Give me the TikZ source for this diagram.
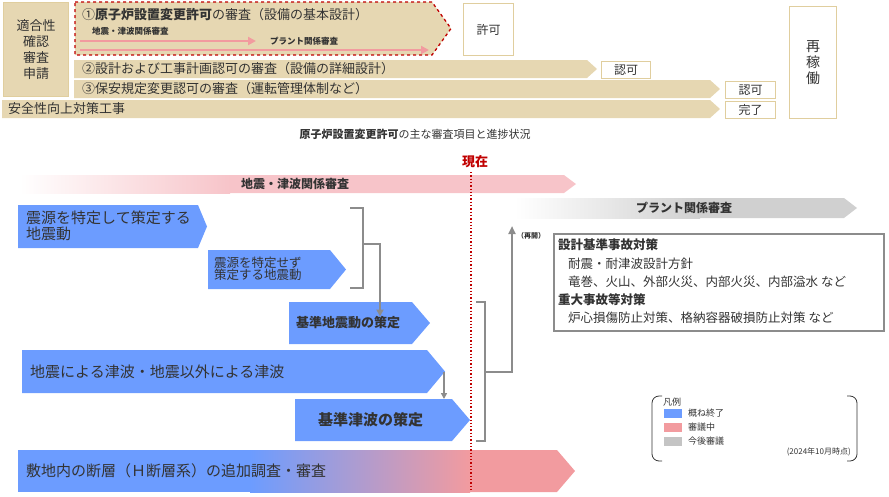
\documentclass[tikz,border=0pt]{standalone}
\usepackage{fontspec}
\setmainfont{Noto Sans CJK JP}
\newfontfamily\jpb{Noto Sans CJK JP}[BoldFont={* Bold}]
\usetikzlibrary{arrows.meta}
\definecolor{beige}{HTML}{E6D7B2}
\definecolor{beigeb}{HTML}{E0CE9E}
\definecolor{bl}{HTML}{6C9CFF}
\definecolor{pk}{HTML}{F29B9F}
\definecolor{lpk}{HTML}{F7C4C9}
\definecolor{gr}{HTML}{C4C4C4}
\definecolor{redd}{HTML}{C00000}
\definecolor{txt}{HTML}{333333}
\newcommand\pent[6]{\path[#6] (#1,#2) -- ({#3-#5},#2) -- (#3,{(#2+#4)/2}) -- ({#3-#5},#4) -- (#1,#4) -- cycle;}
\tikzset{
 lbl/.style={anchor=west,inner sep=0,text=txt,font=\fontsize{12}{13}\selectfont},
 wbox/.style={draw=beigeb,line width=1pt,fill=white,text=txt,font=\fontsize{12}{13}\selectfont,inner sep=0},
 blt/.style={anchor=west,inner sep=0,text=txt,font=\fontsize{15}{16}\selectfont,align=left},
 conn/.style={draw=gray!90,line width=2pt},
 legsw/.style={inner sep=0,minimum width=18pt,minimum height=9pt}
}
\begin{document}
\begin{tikzpicture}[x=1pt,y=-1pt]
\useasboundingbox (0,0) rectangle (889,496);
% ---------- top ----------
\node[draw=beigeb,fill=beige,line width=1pt,minimum width=65pt,minimum height=94pt,anchor=north west,inner sep=0,align=center,text=txt,font=\fontsize{13}{16}\selectfont] (app) at (3,2) {適合性\\確認\\審査\\申請};
\pent{75}{2}{451}{55}{19}{fill=beige,draw=redd,dashed,line width=1.3pt}
\node[lbl,font=\fontsize{13}{14}\selectfont] (r1) at (82,15) {①\textbf{原子炉設置変更許可}の審査（設備の基本設計）};
\node[lbl,font=\bfseries\fontsize{8.5}{9}\selectfont] (l1) at (92,31) {地震・津波関係審査};
\node[lbl,font=\bfseries\fontsize{8.5}{9}\selectfont] (l2) at (270,41) {プラント関係審査};
\coordinate (a1s) at (80,41); \coordinate (a1e) at (256,41);
\coordinate (a2s) at (80,50); \coordinate (a2e) at (429,50);
\draw[draw=pk,line width=2.2pt,-{Triangle[length=8pt,width=8pt]}] (a1s) -- (a1e);
\draw[draw=pk,line width=2.2pt,-{Triangle[length=8pt,width=8pt]}] (a2s) -- (a2e);
\node[wbox,minimum width=50pt,minimum height=52pt,anchor=north west] (kyoka) at (463,3) {許可};
\pent{74}{60}{597}{78}{10}{fill=beige}
\node[lbl,font=\fontsize{13}{14}\selectfont] (r2) at (82,69) {②設計および工事計画認可の審査（設備の詳細設計）};
\node[wbox,minimum width=49pt,minimum height=17pt,anchor=north west] (n2) at (601,61) {認可};
\pent{74}{80}{720}{98}{10}{fill=beige}
\node[lbl,font=\fontsize{13}{14}\selectfont] (r3) at (82,89) {③保安規定変更認可の審査（運転管理体制など）};
\node[wbox,minimum width=50pt,minimum height=17pt,anchor=north west] (n3) at (725,81) {認可};
\pent{2}{100}{720}{118}{10}{fill=beige}
\node[lbl,font=\fontsize{13}{14}\selectfont] (r4) at (8,109) {安全性向上対策工事};
\node[wbox,minimum width=50pt,minimum height=17pt,anchor=north west] (n4) at (725,101) {完了};
\node[wbox,minimum width=47pt,minimum height=112pt,anchor=north west,align=center,font=\fontsize{14}{16}\selectfont] (sai) at (789,6) {再\\稼\\働};
\node[inner sep=0,text=txt,font=\fontsize{11}{12}\selectfont] (cap) at (415,134) {\textbf{原子炉設置変更許可}の主な審査項目と進捗状況};
% ---------- bottom ----------
\node[inner sep=0,text=redd,font=\bfseries\fontsize{13}{14}\selectfont] (now) at (475,162) {現在};
\shade[left color=white,right color=lpk] (20,175) rectangle (230,193);
\pent{229}{175}{576}{193}{12}{fill=lpk}
\node[inner sep=0,text=txt,font=\bfseries\fontsize{12}{13}\selectfont] (eq) at (295,184) {地震・津波関係審査};
\shade[left color=white,right color=gr!80] (515,198) rectangle (700,218);
\pent{699}{198}{857}{218}{13}{fill=gr!80}
\node[inner sep=0,text=txt,font=\bfseries\fontsize{12}{13}\selectfont] (pl) at (684,208) {プラント関係審査};
\pent{18}{205}{207}{248}{9}{fill=bl}
\node[blt] (b1) at (26,226) {震源を特定して策定する\\地震動};
\pent{208}{250}{346}{289}{16}{fill=bl}
\node[blt,font=\fontsize{12.5}{12}\selectfont] (b2) at (214,269) {震源を特定せず\\策定する地震動};
\pent{289}{302}{430}{344}{18}{fill=bl}
\node[blt,font=\bfseries\fontsize{13}{14}\selectfont] (b3) at (296,323) {基準地震動の策定};
\pent{22}{350}{445}{393}{18}{fill=bl}
\node[blt] (b4) at (30,372) {地震による津波・地震以外による津波};
\pent{295}{399}{470}{441}{18}{fill=bl}
\node[blt,font=\bfseries\fontsize{15}{16}\selectfont] (b5) at (318,420) {基準津波の策定};
\fill[bl] (18,450) rectangle (251,492);
\shade[left color=bl,right color=pk] (250,450) rectangle (470,492);
\pent{469}{450}{575}{492}{18}{fill=pk}
\node[blt] (b6) at (26,471) {敷地内の断層（Ｈ断層系）の追加調査・審査};
\coordinate (lt) at (471,172); \coordinate (lb) at (471,492);
\draw[redd,dotted,line width=1.3pt] (lt) -- (lb);
% brackets
\coordinate (k1a) at (350,208); \coordinate (k1b) at (363,208); \coordinate (k1c) at (363,288); \coordinate (k1d) at (350,288);
\draw[conn] (k1a) -- (k1b) -- (k1c) -- (k1d);
\coordinate (k1m) at (363,244); \coordinate (k1e) at (380,244);
\draw[conn,-{Triangle[length=7pt,width=7pt]}] (k1m) -- (k1e) -- (b3.north -| k1e);
\coordinate (k3s) at (444,372); \coordinate (k3e) at (444,399);
\draw[conn,line width=1.6pt,-{Triangle[length=6pt,width=6pt]}] (k3s) -- (k3e);
\coordinate (k2a) at (476,302); \coordinate (k2b) at (485,302); \coordinate (k2c) at (485,441); \coordinate (k2d) at (476,441);
\draw[conn] (k2a) -- (k2b) -- (k2c) -- (k2d);
\coordinate (k2m) at (485,372); \coordinate (k2e) at (512,372); \coordinate (k2t) at (512,226);
\draw[conn,-{Triangle[length=8pt,width=7pt]}] (k2m) -- (k2e) -- (k2t);
\node[inner sep=0,anchor=west,text=txt,font=\bfseries\fontsize{7}{8}\selectfont] (rs) at (517,236) {（再開）};
\node[draw=gray!90,line width=2pt,minimum width=330pt,minimum height=97pt,anchor=north west,inner sep=0] (meas) at (553,233) {};
\begin{scope}[every node/.style={anchor=west,inner sep=0,text=txt,font=\fontsize{12.5}{13}\selectfont}]
\node (m1) at (558,245) {\textbf{設計基準事故対策}};
\node (m2) at (568,264) {耐震・耐津波設計方針};
\node (m3) at (568,282) {竜巻、火山、外部火災、内部火災、内部溢水 など};
\node (m4) at (558,300) {\textbf{重大事故等対策}};
\node (m5) at (568,318) {炉心損傷防止対策、格納容器破損防止対策 など};
\end{scope}
% legend
\coordinate (g1) at (662,396); \coordinate (g2) at (662,461);
\coordinate (g3) at (847,396); \coordinate (g4) at (847,461);
\draw[txt,line width=0.8pt,rounded corners=7pt] (g1) -- (652,396) -- (652,461) -- (g2);
\draw[txt,line width=0.8pt,rounded corners=7pt] (g3) -- (857,396) -- (857,461) -- (g4);
\node[inner sep=0,anchor=west,text=txt,font=\fontsize{9}{10}\selectfont] (lg) at (663,402) {凡例};
\node[legsw,fill=bl] (s1) at (673,413) {};
\node[legsw,fill=pk] (s2) at (673,427) {};
\node[legsw,fill=gr] (s3) at (673,441) {};
\node[inner sep=0,anchor=west,text=txt,font=\fontsize{9}{10}\selectfont] (t1) at (688,413) {概ね終了};
\node[inner sep=0,anchor=west,text=txt,font=\fontsize{9}{10}\selectfont] (t2) at (688,427) {審議中};
\node[inner sep=0,anchor=west,text=txt,font=\fontsize{9}{10}\selectfont] (t3) at (688,441) {今後審議};
\node[inner sep=0,anchor=east,text=txt,font=\fontsize{8}{9}\selectfont] (dt) at (851,452) {(2024年10月時点)};
\end{tikzpicture}
\end{document}
